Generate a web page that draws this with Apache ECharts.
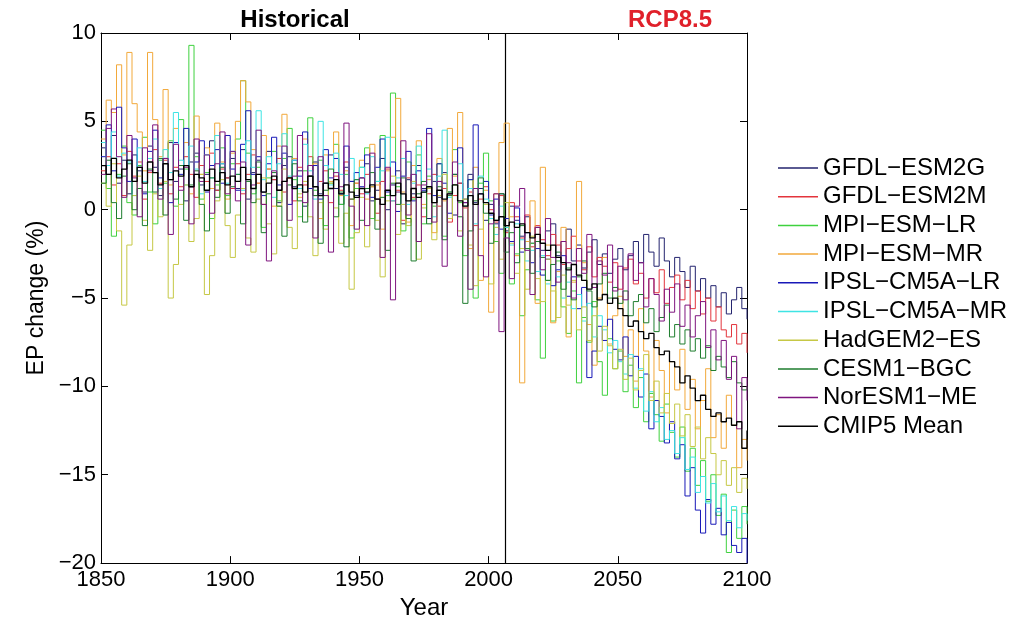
<!DOCTYPE html>
<html>
<head>
<meta charset="utf-8">
<script src="https://cdn.jsdelivr.net/npm/echarts@6/dist/echarts.min.js"></script>
<style>html,body{margin:0;padding:0;background:#fff}#chart{width:1034px;height:625px}</style>
</head>
<body>
<div id="chart"></div>
<script>
// ---- data (every 2 years 1850..2100) ----
const yearStart = 1850, yearEnd = 2100, yearStep = 2;
const years = [];
for (let y = yearStart; y <= yearEnd; y += yearStep) years.push(y);

const xTicks = [1850, 1900, 1950, 2000, 2050, 2100];
const yTicks = [-20, -15, -10, -5, 0, 5, 10];
const splitYear = 2006.5;

const modelNames = ['GFDL-ESM2G','GFDL-ESM2M','MPI-ESM-LR','MPI-ESM-MR','IPSL-CM5A-LR','IPSL-CM5A-MR','HadGEM2-ES','CESM1-BGC','NorESM1-ME','CMIP5 Mean'];

const gfdlEsm2g = [
 3.5, 2.0, 4.2, 1.5, 2.8,  0.9, 3.1, 2.2, 1.0, 3.6,  2.4, 0.8, 2.9, 3.8, 1.6,  2.3, 0.5, 2.7, 3.2, 1.4,  2.0, 3.9, 1.1, 2.6, 1.8,
 2.9, 1.2, 3.4, 0.6, 2.1,  2.8, 1.0, 3.3, 1.7, 0.4,  2.5, 3.0, 1.3, 2.2, 0.2,  1.9, 2.7, 0.9, 1.5, 3.1,  1.2, 0.3, 2.4, 1.6, 0.8,
 1.8, 2.6, 0.5, 1.1, 2.9,  0.0, 1.4, 2.2, -0.8, 1.7,  0.9, 2.5, 1.2, -0.5, 1.6,  0.7, 2.1, 1.0, -0.3, 1.5,  0.6, 2.0, 0.4, 1.2, -0.6,
 0.3, -0.8, 0.9, -1.2, 0.2,  -0.6, -1.5, -0.4, -1.9, -1.0,  -2.3, -1.2, -0.8, -2.6, -1.8,  -1.1, -2.9, -2.0, -3.3, -2.4,  -1.7, -3.1, -2.5, -3.6, -2.8,
 -2.2, -3.4, -2.6, -1.8, -3.0,  -1.4, -2.4, -3.2, -1.6, -2.9,  -3.8, -2.7, -3.5, -4.4, -3.2,  -4.6, -3.9, -5.0, -4.3, -5.5,  -4.7, -5.9, -5.1, -4.4, -5.6,
 -6.2];

const gfdlEsm2m = [
 2.2, 3.0, 1.4, 2.6, 0.8,  3.3, 1.9, 2.7, 0.6, 2.1,  3.4, 1.5, 2.8, 0.9, 2.4,  1.3, 3.0, 2.0, 0.7, 2.5,  1.6, 3.2, 1.1, 2.3, 1.8,
 1.2, 2.6, 0.9, 2.0, 3.1,  1.5, 0.3, 2.3, 1.7, 2.9,  1.0, 1.8, 0.5, 2.4, 1.4,  3.0, 0.8, 1.6, 2.2, 0.4,  1.9, 1.1, 2.7, 0.6, 1.5,
 0.9, 2.0, 1.3, -0.2, 1.6,  2.3, 0.5, 1.1, -0.6, 1.8,  0.7, 1.4, -0.4, 0.9, 2.0,  0.2, 1.2, -0.7, 0.8, 1.5,  0.1, 1.0, -0.9, 0.6, 1.3,
 0.0, -0.7, 0.8, -1.3, 0.4,  -0.4, -1.6, -0.3, -2.1, -0.9,  -1.7, -2.6, -1.4, -2.0, -3.1,  -2.2, -1.5, -2.9, -3.4, -2.1,  -3.8, -2.7, -3.2, -4.1, -3.0,
 -4.5, -3.3, -2.8, -4.2, -3.6,  -5.0, -3.9, -4.7, -3.4, -5.3,  -4.4, -3.7, -5.1, -4.0, -5.6,  -4.6, -5.9, -5.0, -6.3, -5.5,  -6.8, -7.2, -6.5, -7.6, -7.0,
 -8.1];

const mpiEsmLr = [
 4.5, 1.2, -1.5, 2.0, 3.6,  0.4, -0.3, 2.5, 4.1, 1.0,  -0.8, 2.8, 1.5, 3.9, 0.2,  5.1, 2.3, 9.3, 3.0, 0.6,  2.1, -0.5, 1.4, 3.5, 0.8,
 2.6, 4.0, 7.3, 3.2, 0.9,  2.4, -1.0, 1.8, 3.3, 0.5,  2.9, 4.6, 1.7, -0.4, 2.2,  5.2, 1.1, 2.8, -0.9, 1.5,  3.7, 0.3, 2.0, -1.6, 1.2,
 2.4, 3.5, -0.5, 1.6, 4.2,  0.8, 6.6, 1.3, -1.2, 2.7,  0.6, 3.1, -0.8, 1.9, 0.2,  2.6, -1.5, 1.0, 3.4, 0.4,  -2.6, 1.7, -5.0, 1.5, 3.2,
 0.5, -1.8, -3.6, -1.0, -4.2,  -2.5, -6.0, -3.4, -1.9, -5.1,  -8.4, -4.0, -6.3, -2.9, -5.5,  -7.0, -4.6, -9.8, -6.1, -7.5,  -5.2, -8.6, -10.5, -7.3, -9.0,
 -8.0, -10.3, -8.8, -11.2, -9.5,  -12.0, -10.4, -11.6, -13.1, -11.0,  -12.6, -14.0, -12.3, -14.8, -13.5,  -15.6, -14.2, -16.5, -15.0, -17.3,  -16.1, -19.4, -17.0, -18.6, -16.8,
 -17.8];

const mpiEsmMr = [
 4.0, 6.2, 5.5, 8.2, 3.1,  8.9, 6.0, 4.4, 2.2, 8.9,  5.1, 3.0, 6.8, 1.4, 4.6,  2.5, 3.8, 0.9, 5.3, 2.0,  3.5, 1.2, 4.9, 2.7, 0.6,
 3.2, 5.0, 7.3, 6.1, 3.4,  1.5, 4.2, 2.3, 0.2, 3.6,  5.4, 1.8, 2.9, 0.7, 4.0,  1.2, 2.6, -0.5, 3.1, 1.6,  4.4, 0.8, 2.2, -0.9, 1.5,
 2.8, 0.6, 3.7, 1.4, -1.1,  2.2, 4.1, 6.3, 1.0, -0.7,  2.5, 3.9, 0.3, 1.7, -1.3,  2.9, 0.5, 4.6, 1.9, 5.5,  0.2, -2.2, 2.4, -4.0, 1.1,
 -5.8, 0.9, 3.8, 4.9, -0.4,  -2.6, -9.8, -1.8, 0.5, -5.3,  2.4, -2.0, -6.4, -3.5, -1.0,  -7.2, -4.1, 1.6, -3.0, -6.5,  -8.8, -5.0, -2.7, -7.6, -6.0,
 -4.9, -8.3, -6.8, -9.7, -5.6,  -8.0, -10.6, -7.4, -9.1, -11.5,  -8.6, -10.2, -7.9, -11.3, -9.6,  -12.4, -10.8, -9.0, -12.9, -11.6,  -13.5, -10.5, -12.2, -14.6, -13.0,
 -14.2];

const ipslCm5aLr = [
 3.0, 4.8, 2.2, 5.8, 3.5,  1.6, 4.0, 2.4, 0.9, 3.3,  4.5, 1.8, 2.9, 0.4, 3.8,  2.0, 4.6, 1.3, 2.7, 3.9,  1.0, 2.5, 3.4, 1.5, 4.2,
 2.3, 1.1, 3.7, 5.6, 2.0,  3.0, 0.8, 2.6, 4.1, 1.4,  3.2, 0.3, 2.8, 1.9, 4.4,  1.2, 2.5, 0.6, 3.4, 1.8,  2.9, 0.9, 3.6, 1.6, 2.1,
 1.3, 3.1, 0.7, 2.4, 4.0,  1.0, 2.7, -0.1, 1.9, 3.3,  0.5, 2.2, 1.1, 4.6, 0.8,  2.6, 1.5, -0.2, 2.0, 3.5,  0.4, 1.7, 4.8, 0.9, 1.6,
 -0.3, 0.6, -1.1, -0.5, -1.8,  0.1, -2.4, -1.3, -3.0, -2.2,  -3.7, -2.8, -4.3, -3.4, -2.6,  -4.9, -3.8, -5.6, -4.4, -9.5,  -8.0, -6.6, -7.4, -6.2, -7.9,
 -8.5, -7.2, -9.4, -8.3, -10.6,  -9.3, -12.4, -10.8, -11.7, -13.2,  -12.0, -14.1, -13.3, -16.2, -14.6,  -17.0, -18.3, -16.4, -17.8, -16.9,  -18.4, -17.7, -19.0, -19.4, -18.6,
 -20.0];

const ipslCm5aMr = [
 3.8, 2.5, 4.4, 1.9, 3.2,  2.7, 0.8, 3.5, 1.6, 2.9,  4.0, 1.2, 3.4, 2.1, 5.5,  2.8, 1.4, 3.6, 2.3, 0.9,  3.1, 1.8, 4.2, 2.6, 1.5,
 3.3, 2.0, 1.1, 3.9, 2.4,  5.6, 1.7, 3.0, 0.7, 2.6,  4.3, 1.9, 2.8, 1.2, 3.7,  2.2, 0.6, 5.0, 2.5, 1.4,  3.2, 2.0, 0.8, 2.9, 1.7,
 2.4, 0.9, 3.0, 1.6, 2.2,  4.1, 0.5, 1.8, 2.9, 0.3,  1.5, 3.6, 1.0, 2.3, -0.4,  1.9, 4.5, 0.7, 1.4, 2.6,  0.2, 1.2, -0.8, 1.9, 0.6,
 -0.5, -1.4, 0.2, -1.0, -2.0,  -0.8, -1.7, -2.9, -2.3, -3.5,  -2.6, -4.2, -3.1, -3.8, -5.0,  -4.1, -5.6, -4.8, -6.3, -5.3,  -7.2, -6.0, -6.8, -8.1, -7.4,
 -8.6, -9.3, -8.2, -10.1, -9.0,  -11.4, -10.3, -12.0, -11.2, -13.0,  -12.5, -13.8, -12.9, -14.7, -14.0,  -16.0, -15.1, -16.6, -15.5, -17.1,  -16.2, -17.6, -16.8, -18.0, -17.2,
 -17.6];

const hadGem2Es = [
 1.5, 0.2, 2.6, -1.2, -5.4,  -2.0, 0.8, 1.9, -0.6, -2.3,  0.9, -0.4, 1.6, -5.0, -3.1,  0.3, 1.4, -1.8, -0.5, 2.0,  -4.8, -2.6, 0.5, 1.7, -0.9,
 -2.7, -0.3, 1.2, -1.6, -2.4,  0.6, 1.8, -0.8, -2.5, 0.2,  2.3, -1.0, -2.2, 0.9, 1.6,  -0.4, -2.6, 0.4, -1.1, 1.5,  0.1, -1.9, -0.2, -4.5, -1.3,
 0.7, -2.1, 1.3, -0.6, -3.8,  0.5, 1.9, -1.4, 0.3, -0.9,  1.6, -2.8, 0.1, 1.2, -1.7,  0.8, 2.0, -0.5, 1.4, -1.2,  0.6, -2.0, -4.3, -1.1, 0.3,
 -4.2, -1.0, -2.8, 0.4, -1.9,  -3.6, -2.2, -4.5, -1.5, -3.9,  -5.2, -2.8, -4.6, -6.1, -3.7,  -5.4, -4.0, -6.8, -5.5, -7.4,  -6.0, -8.0, -6.6, -7.7, -9.0,
 -7.9, -9.6, -8.4, -10.2, -9.1,  -8.2, -10.8, -9.7, -11.5, -10.4,  -12.1, -11.0, -12.8, -11.6, -13.4,  -12.3, -14.1, -12.9, -13.8, -15.0,  -14.2, -15.6, -14.6, -16.0, -15.2,
 -15.8];

const cesm1Bgc = [
 1.5, 2.8, 0.4, -0.5, 1.9,  2.6, 0.0, 1.2, -0.9, 2.3,  1.0, 2.9, -0.3, 1.7, 0.6,  2.5, -0.6, 1.4, 2.2, 0.3,  -1.2, 1.8, 0.7, 2.4, -0.2,
 1.3, 2.0, -0.8, 1.6, 0.4,  2.7, -1.3, 0.9, 2.1, 0.2,  -1.5, 1.4, 2.6, 0.5, -0.7,  1.9, 0.8, -1.9, 1.1, 2.3,  -0.4, 1.0, -2.1, 0.6, 1.7,
 -0.6, 1.2, 2.1, -1.1, 0.7,  -2.3, 1.5, 0.3, 1.8, -0.5,  -2.9, 0.9, 1.6, -0.8, 0.4,  1.3, -1.7, 0.8, 2.0, -0.4,  -5.3, -1.2, 0.5, 1.8, -0.2,
 -1.9, -0.6, 0.9, -2.4, -1.3,  -3.0, -0.9, -2.2, -3.6, -1.8,  -2.7, -4.0, -3.1, -2.4, -4.5,  -3.3, -5.1, -3.8, -2.9, -4.6,  -5.5, -4.2, -3.6, -5.0, -4.4,
 -5.3, -4.6, -6.0, -5.2, -4.8,  -6.4, -5.6, -6.9, -6.1, -5.4,  -7.2, -6.5, -7.6, -6.8, -8.0,  -7.3, -8.4, -7.7, -9.1, -8.3,  -8.9, -9.5, -8.6, -9.8, -10.2,
 -10.0];

const norEsm1Me = [
 2.0, 4.6, 5.7, 3.0, 0.7,  4.2, 1.8, -0.4, 3.5, 2.2,  4.8, 0.6, 2.9, -1.4, 3.7,  1.1, 2.4, -0.8, 4.0, 1.6,  3.1, -0.2, 2.6, 4.4, 0.9,
 3.3, 0.5, 2.7, -2.0, 1.4,  4.5, 0.3, -2.9, 2.2, 1.1,  3.6, -0.6, 1.9, 4.2, 0.4,  2.5, -1.6, 3.0, 0.8, -2.4,  2.1, 1.3, 4.9, 0.2, -1.1,
 1.8, -0.9, 3.2, 0.6, -2.7,  2.4, -5.1, 1.0, 3.9, -0.3,  2.0, -1.8, 1.4, 4.3, -0.7,  1.6, -3.2, 0.9, 2.7, -1.5,  0.4, -4.5, 1.2, -2.6, -3.8,
 -0.8, 0.9, -6.9, -1.6, -3.9,  0.2, 1.2, -2.3, -4.8, -1.0,  -3.4, -0.5, -2.7, -4.1, -1.8,  -3.0, -5.0, -2.2, -3.6, -1.4,  -4.4, -2.9, -3.7, -2.0, -4.6,
 -3.2, -5.1, -2.5, -4.0, -3.0,  -5.5, -3.9, -4.8, -6.3, -4.5,  -5.8, -4.2, -6.6, -5.4, -7.2,  -6.0, -5.2, -7.8, -6.8, -8.5,  -7.4, -9.6, -8.3, -12.4, -9.5,
 -10.8];

const cmip5Mean = [
 2.5, 2.0, 2.9, 1.8, 2.3,  2.8, 1.6, 2.4, 1.5, 2.7,  2.1, 1.4, 2.6, 1.7, 2.2,  1.9, 2.5, 1.3, 2.0, 1.8,  1.1, 2.3, 1.6, 2.1, 1.4,
 1.9, 1.6, 2.4, 1.7, 1.2,  2.0, 1.0, 1.5, 1.9, 1.1,  1.6, 1.8, 1.2, 1.4, 1.0,  1.9, 1.3, 0.8, 1.5, 1.2,  1.7, 0.9, 1.4, 1.0, 0.7,
 1.2, 1.0, 1.4, 0.6, 0.3,  1.1, 0.8, 1.5, 0.9, 0.5,  1.2, 0.7, 1.0, 1.3, 0.4,  1.1, 0.6, 0.9, 1.4, 0.5,  0.2, 0.8, 0.3, 0.9, 0.4,
 -0.2, -0.6, -0.4, -0.9, -0.7,  -1.0, -0.8, -1.3, -1.6, -1.4,  -1.9, -2.3, -2.0, -2.7, -3.0,  -3.4, -3.1, -3.7, -4.0, -4.5,  -4.2, -5.1, -4.8, -5.3, -5.0,
 -5.6, -6.0, -6.6, -6.3, -6.9,  -7.3, -7.0, -7.8, -8.2, -8.0,  -8.6, -8.9, -9.8, -9.4, -10.1,  -10.8, -10.5, -11.3, -11.7, -11.5,  -12.0, -11.8, -12.2, -12.0, -13.5,
 -12.5];

const seriesValues = [gfdlEsm2g, gfdlEsm2m, mpiEsmLr, mpiEsmMr, ipslCm5aLr, ipslCm5aMr, hadGem2Es, cesm1Bgc, norEsm1Me, cmip5Mean];
const seriesColors = ['#23236e','#e3343c','#3fd13f','#f2a93b','#1818b8','#3ee4e4','#c6c845','#1e7d2e','#7f157f','#000000'];

// ---- chart ----
const FONT = 'Liberation Sans, Arial, sans-serif';
const minus = s => String(s).replace(/-/g, '\u2212');
const chart = echarts.init(document.getElementById('chart'), null, {renderer: 'canvas'});

const axisCommonX = {
  type: 'value', min: xTicks[0], max: xTicks[xTicks.length - 1], interval: 50,
  axisLine: {show: true, onZero: false, lineStyle: {color: '#000', width: 1}},
  axisTick: {show: true, inside: true, length: 7, lineStyle: {color: '#000'}},
  splitLine: {show: false}
};
const axisCommonY = {
  type: 'value', min: yTicks[0], max: yTicks[yTicks.length - 1], interval: 5,
  axisLine: {show: true, onZero: false, lineStyle: {color: '#000', width: 1}},
  axisTick: {show: true, inside: true, length: 7, lineStyle: {color: '#000'}},
  splitLine: {show: false}
};

const series = modelNames.map((name, k) => {
  const s = {
    name: name, type: 'line', step: 'end', symbol: 'none', showSymbol: false,
    xAxisIndex: 0, yAxisIndex: 0,
    data: years.map((yr, i) => [yr, seriesValues[k][i]]),
    lineStyle: {color: seriesColors[k], width: k === 9 ? 1.3 : 1},
    itemStyle: {color: seriesColors[k]},
    z: 2 + k, silent: true
  };
  if (k === 9) {
    s.markLine = {
      silent: true, symbol: 'none', label: {show: false}, animation: false,
      lineStyle: {color: '#000', width: 1.2, type: 'solid'},
      data: [{xAxis: splitYear}]
    };
  }
  return s;
});

chart.setOption({
  animation: false,
  backgroundColor: '#fff',
  title: [
    {text: 'Historical', left: 290, top: 3, textAlign: 'center',
     textStyle: {fontFamily: FONT, fontSize: 24, fontWeight: 'bold', color: '#000'}},
    {text: 'RCP8.5', left: 665, top: 3, textAlign: 'center',
     textStyle: {fontFamily: FONT, fontSize: 24, fontWeight: 'bold', color: '#e0202a'}}
  ],
  grid: {left: 101, right: 287, top: 33, bottom: 57},
  legend: {
    orient: 'vertical', left: 773, top: 151,
    itemWidth: 40, itemHeight: 1.5, itemGap: 4.7, icon: 'rect',
    formatter: n => minus(n),
    textStyle: {fontFamily: FONT, fontSize: 24, color: '#000', lineHeight: 24},
    data: modelNames
  },
  xAxis: [
    Object.assign({}, axisCommonX, {
      position: 'bottom',
      axisLabel: {fontFamily: FONT, fontSize: 22, color: '#000', margin: 6, formatter: v => String(v)},
      name: 'Year', nameLocation: 'middle', nameGap: 29,
      nameTextStyle: {fontFamily: FONT, fontSize: 24, color: '#000'}
    }),
    Object.assign({}, axisCommonX, {position: 'top', axisLabel: {show: false}})
  ],
  yAxis: [
    Object.assign({}, axisCommonY, {
      position: 'left',
      axisLabel: {fontFamily: FONT, fontSize: 22, color: '#000', margin: 5, formatter: v => minus(v)},
      name: 'EP change (%)', nameLocation: 'middle', nameGap: 53,
      nameTextStyle: {fontFamily: FONT, fontSize: 23, color: '#000'}
    }),
    Object.assign({}, axisCommonY, {position: 'right', axisLabel: {show: false}})
  ],
  series: series
});
</script>
</body>
</html>
